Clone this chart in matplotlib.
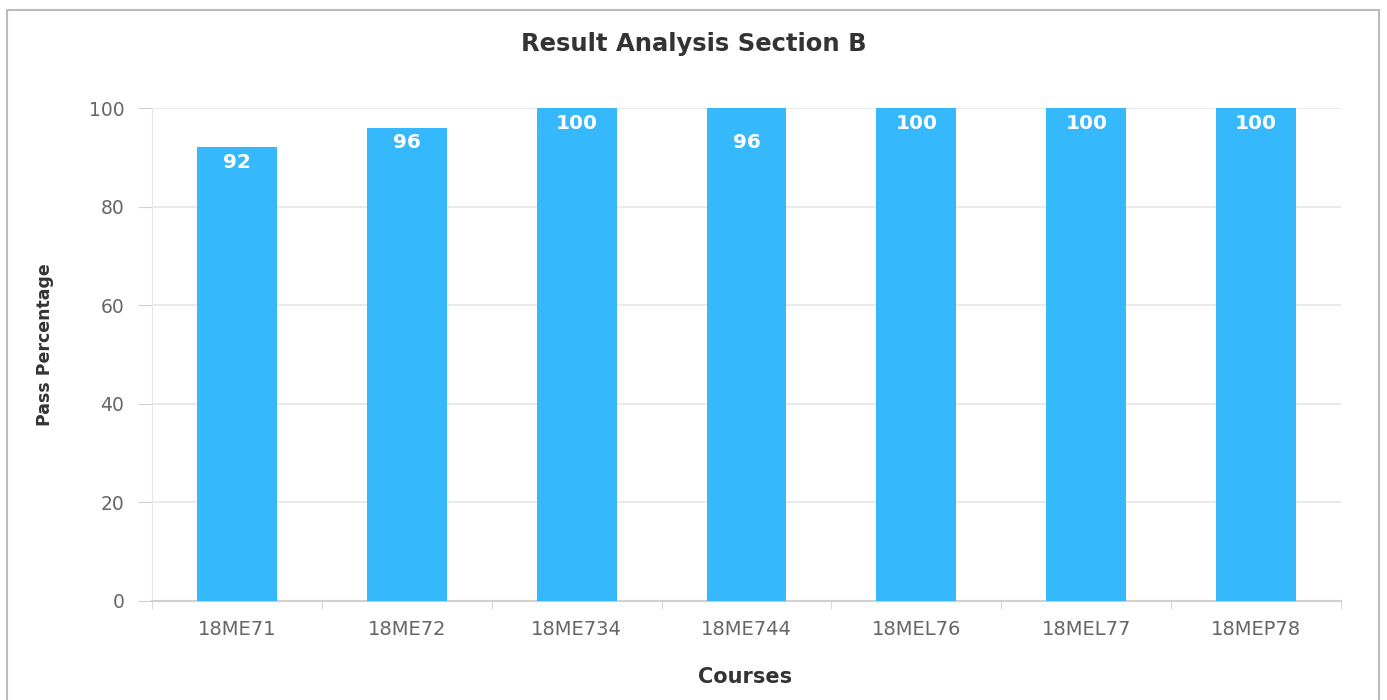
import matplotlib
matplotlib.use("Agg")
import matplotlib.pyplot as plt
from matplotlib.patches import Rectangle
import numpy as np

# ---------------------------------------------------------------------------
# Data
# ---------------------------------------------------------------------------
courses = ["18ME71", "18ME72", "18ME734", "18ME744", "18MEL76", "18MEL77", "18MEP78"]
bar_values = [92, 96, 100, 100, 100, 100, 100]   # drawn bar heights
label_values = [92, 96, 100, 96, 100, 100, 100]  # printed labels (18ME744 shows 96)
y_ticks = [0, 20, 40, 60, 80, 100]

BAR_COLOR = "#36b9fc"
GRID_COLOR = "#e6e6e6"
AXIS_COLOR = "#d0d0d0"
TICK_TEXT = "#666666"
TITLE_COLOR = "#333333"

fig = plt.figure(figsize=(13.87, 7.0), dpi=100)
ax = fig.add_axes([152 / 1387, 1 - 601 / 700, (1341 - 152) / 1387, (601 - 108) / 700])

x = np.arange(len(courses))
ax.bar(x, bar_values, width=0.47, color=BAR_COLOR, zorder=3)

# value labels inside the top of each bar
for xi, lab in zip(x, label_values):
    ax.annotate(str(lab), (xi, lab), xytext=(0, -11), textcoords="offset points",
                ha="center", va="center", color="white", fontsize=14.5,
                fontweight="bold", zorder=4)

ax.set_xlim(-0.5, len(courses) - 0.5)
ax.set_ylim(0, 100)
ax.set_yticks(y_ticks)
ax.set_yticklabels([str(v) for v in y_ticks], color=TICK_TEXT, fontsize=13.5)
ax.set_xticks(x)
ax.set_xticklabels(courses, color=TICK_TEXT, fontsize=14)
ax.set_xticks(np.arange(len(courses) + 1) - 0.5, minor=True)
ax.tick_params(axis="x", which="major", length=0, pad=14)
ax.tick_params(axis="x", which="minor", length=6, color=AXIS_COLOR, direction="out")
ax.tick_params(axis="y", length=10, color=AXIS_COLOR, pad=10)

ax.grid(axis="y", color=GRID_COLOR, linewidth=1.2, zorder=0)
for side in ["top", "right"]:
    ax.spines[side].set_visible(False)
ax.spines["left"].set_color(GRID_COLOR)
ax.spines["bottom"].set_color(AXIS_COLOR)
ax.spines["bottom"].set_linewidth(1.5)

fig.text(0.5, 1 - 44 / 700, "Result Analysis Section B", ha="center", va="center",
         fontsize=17.5, fontweight="heavy", color=TITLE_COLOR)
fig.text(745 / 1387, 1 - 677 / 700, "Courses", ha="center", va="center",
         fontsize=15, fontweight="heavy", color=TITLE_COLOR)
fig.text(45 / 1387, 1 - 345 / 700, "Pass Percentage", ha="center", va="center",
         rotation=90, fontsize=12.5, fontweight="heavy", color=TITLE_COLOR)

# outer frame of the chart container
fig.add_artist(Rectangle((7 / 1387, -0.05), (1379 - 7) / 1387, 1.05 - 10 / 700,
                         transform=fig.transFigure, fill=False,
                         edgecolor="#bbbbbb", linewidth=1.5))

fig.savefig("out.png", dpi=100)
